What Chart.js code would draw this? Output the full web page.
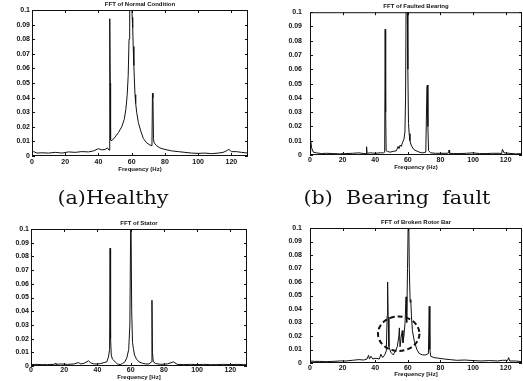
<!DOCTYPE html>
<html>
<head>
<meta charset="utf-8">
<script src="https://cdn.jsdelivr.net/npm/chart.js@4.4.1/dist/chart.umd.min.js"></script>
<style>
  body { margin: 0; background: #fff; width: 523px; height: 381px; position: relative; overflow: hidden; }
  canvas { position: absolute; }
  .cap { position: absolute; width: 220px; text-align: center; font-family: 'DejaVu Serif'; font-size: 18px;
         line-height: 21px; color: #111; white-space: pre; transform: scaleX(1.15); }
</style>
</head>
<body>
<canvas id="c1" width="262" height="182" style="left:0;top:0"></canvas>
<canvas id="c2" width="261" height="182" style="left:262px;top:0"></canvas>
<canvas id="c3" width="262" height="191" style="left:0;top:190px"></canvas>
<canvas id="c4" width="261" height="191" style="left:262px;top:190px"></canvas>
<div class="cap" style="left:3px;top:187px">(a)Healthy</div>
<div class="cap" style="left:287px;top:187px">(b)  Bearing  fault</div>
<script>
// axis ticks
const xTicks = [0, 20, 40, 60, 80, 100, 120]
const yTicks = [0, 0.01, 0.02, 0.03, 0.04, 0.05, 0.06, 0.07, 0.08, 0.09, 0.1]
const yTickLabels = ['0', '0.01', '0.02', '0.03', '0.04', '0.05', '0.06', '0.07', '0.08', '0.09', '0.1']

// (a) healthy motor
const healthyFreq = [0, 1, 3, 6, 10, 14, 18, 22, 26, 30, 34, 37, 40, 42, 44, 45.5, 46.4, 46.7, 46.9, 47.1, 47.3, 47.6,
  48.5, 50, 52, 54, 55.5, 56.5, 57.3, 57.9, 58.4, 58.8, 59.3, 59.8, 60.3, 60.6, 60.9, 61.3, 61.7, 62.0, 62.4, 63, 64,
  65.5, 67, 69, 71, 72.2, 72.5, 72.8, 73.1, 73.5, 75, 77, 80, 84, 88, 92, 96, 100, 104, 108, 112, 115, 117, 118.5, 120,
  123, 126, 130]
const healthyAmp = [0.002, 0.003, 0.002, 0.0022, 0.002, 0.0025, 0.002, 0.0028, 0.0025, 0.003, 0.0028, 0.0035, 0.005,
  0.0042, 0.0045, 0.0055, 0.004, 0.053, 0.094, 0.05, 0.011, 0.0105, 0.011, 0.013, 0.016, 0.02, 0.025, 0.032, 0.042,
  0.055, 0.08, 0.11, 0.13, 0.11, 0.095, 0.088, 0.075, 0.062, 0.05, 0.042, 0.036, 0.03, 0.023, 0.017, 0.012, 0.009,
  0.0075, 0.007, 0.043, 0.04, 0.012, 0.009, 0.007, 0.0055, 0.0045, 0.0035, 0.003, 0.0025, 0.002, 0.0018, 0.002,
  0.0016, 0.002, 0.0025, 0.0035, 0.0045, 0.003, 0.003, 0.0025, 0.002]

// (b) bearing fault
const bearingFreq = [0, 0.4, 1, 2, 4, 7, 10, 14, 18, 22, 26, 30, 33, 34.4, 34.7, 35, 37, 40, 43, 45, 45.8, 46.1, 46.4,
  46.7, 47.5, 49, 51, 53, 54, 54.6, 55.3, 56, 56.8, 57.6, 58.2, 58.6, 59, 59.5, 60, 60.4, 60.8, 61.3, 62, 63.5, 65, 67,
  69, 71, 71.7, 72, 72.3, 72.7, 74, 77, 80, 84, 85, 85.3, 85.6, 88, 92, 96, 100, 104, 108, 112, 116, 117.5, 118, 119,
  122, 126, 130]
const bearingAmp = [0.002, 0.01, 0.005, 0.002, 0.0015, 0.001, 0.0012, 0.001, 0.0008, 0.001, 0.0012, 0.0015, 0.001,
  0.001, 0.0058, 0.0012, 0.0015, 0.0012, 0.0015, 0.0015, 0.002, 0.088, 0.03, 0.003, 0.0025, 0.002, 0.0025, 0.003,
  0.006, 0.0045, 0.007, 0.006, 0.009, 0.011, 0.016, 0.04, 0.12, 0.13, 0.06, 0.022, 0.015, 0.01, 0.007, 0.004, 0.003,
  0.002, 0.0015, 0.002, 0.048, 0.049, 0.02, 0.003, 0.0015, 0.0012, 0.0012, 0.0012, 0.0015, 0.0035, 0.0012, 0.001,
  0.001, 0.0012, 0.0015, 0.001, 0.001, 0.0012, 0.0012, 0.001, 0.004, 0.0015, 0.0012, 0.0008, 0.001]

// stator fault
const statorFreq = [0, 3, 6, 10, 14, 14.5, 15, 18, 22, 26, 28.5, 30, 32, 34.6, 36, 38, 40, 42, 44, 45.6, 46.6, 47.3,
  47.6, 47.9, 48.3, 49, 50.7, 52, 53.7, 55, 56.5, 57.7, 58.8, 59.5, 60.1, 60.6, 61.1, 61.6, 62.3, 63.5, 65, 67, 69, 71,
  72.5, 72.8, 73.1, 73.6, 75, 78, 82, 85.8, 88, 92, 96, 100, 104, 108, 112, 116, 120, 124, 128, 130]
const statorAmp = [0.001, 0.0012, 0.001, 0.001, 0.0012, 0.002, 0.0012, 0.0015, 0.0012, 0.0015, 0.0025, 0.0015, 0.002,
  0.0038, 0.0022, 0.0015, 0.0015, 0.0018, 0.0025, 0.003, 0.0065, 0.012, 0.086, 0.02, 0.008, 0.005, 0.003, 0.0015,
  0.001, 0.0018, 0.003, 0.006, 0.012, 0.03, 0.12, 0.04, 0.017, 0.013, 0.008, 0.005, 0.003, 0.002, 0.0015, 0.0015,
  0.003, 0.048, 0.01, 0.003, 0.0018, 0.0012, 0.0015, 0.003, 0.0012, 0.001, 0.0012, 0.001, 0.0012, 0.001, 0.001,
  0.0012, 0.001, 0.0012, 0.001, 0.001]

// broken rotor bar
const rotorFreq = [0, 3, 6, 10, 14, 18, 22, 26, 30, 33, 35, 35.9, 36.5, 37.4, 38.5, 40.5, 42.5, 43.5, 44.5, 45.8, 46.8,
  47.3, 47.6, 47.9, 48.4, 49.5, 51, 52.5, 53.5, 54.5, 54.8, 55.2, 56, 56.6, 57, 57.6, 58.3, 58.9, 59.3, 59.8, 60.4,
  60.9, 61.4, 61.8, 62.2, 62.8, 64, 65.5, 67, 69, 71, 72.6, 73.1, 73.5, 74, 76, 79, 82, 86, 90, 95, 100, 105, 110, 115,
  118, 121.3, 121.8, 122.5, 126, 130]
const rotorAmp = [0.0015, 0.0012, 0.0012, 0.001, 0.0012, 0.0015, 0.0015, 0.002, 0.0025, 0.0022, 0.003, 0.0057, 0.003,
  0.005, 0.003, 0.0035, 0.003, 0.0065, 0.004, 0.006, 0.009, 0.035, 0.06, 0.034, 0.012, 0.008, 0.006, 0.009, 0.012,
  0.02, 0.026, 0.012, 0.02, 0.024, 0.015, 0.02, 0.03, 0.049, 0.03, 0.07, 0.12, 0.07, 0.045, 0.047, 0.035, 0.024, 0.016,
  0.01, 0.007, 0.006, 0.006, 0.007, 0.042, 0.01, 0.005, 0.004, 0.0035, 0.003, 0.0025, 0.002, 0.0022, 0.0018, 0.0015,
  0.0018, 0.0015, 0.002, 0.002, 0.004, 0.0015, 0.0015, 0.001]

// dashed ring drawn round the sidebands (freq, amp, radius in Hz, radius in amp)
const rotorRing = [54.4, 0.0217, 12.7, 0.0128]

const ink = '#111'
const tickFont = { family: 'Liberation Sans', size: 7, weight: 'bold' }

// box + inward tick marks + small title, MATLAB style
const frame = {
  id: 'frame',
  afterDraw (chart, args, opts) {
    const { ctx, chartArea: a, scales: { x, y } } = chart
    ctx.save()
    ctx.strokeStyle = ink
    ctx.lineWidth = 1
    ctx.strokeRect(a.left + 0.5, a.top + 0.5, a.width - 1, a.height - 1)
    ctx.beginPath()
    x.ticks.forEach(t => {
      const px = Math.round(x.getPixelForValue(t.value)) + 0.5
      ctx.moveTo(px, a.bottom); ctx.lineTo(px, a.bottom - 3)
      ctx.moveTo(px, a.top); ctx.lineTo(px, a.top + 3)
    })
    y.ticks.forEach(t => {
      const py = Math.round(y.getPixelForValue(t.value)) + 0.5
      ctx.moveTo(a.left, py); ctx.lineTo(a.left + 3, py)
      ctx.moveTo(a.right, py); ctx.lineTo(a.right - 3, py)
    })
    ctx.stroke()
    if (opts.ring) {
      const [f, v, rf, rv] = opts.ring
      const cx = x.getPixelForValue(f)
      const cy = y.getPixelForValue(v)
      ctx.lineWidth = 2
      ctx.setLineDash([5, 3])
      ctx.beginPath()
      ctx.ellipse(cx, cy, x.getPixelForValue(f + rf) - cx, cy - y.getPixelForValue(v + rv), 0, 0, Math.PI * 2)
      ctx.stroke()
      ctx.setLineDash([])
    }
    ctx.fillStyle = ink
    ctx.font = 'bold 6px "Liberation Sans"'
    ctx.textAlign = 'center'
    ctx.textBaseline = 'middle'
    ctx.fillText(opts.text, (a.left + a.right) / 2, a.top - 6)
    ctx.restore()
  }
}

function drawSpectrum (id, freq, amp, p) {
  new Chart(document.getElementById(id), {
    type: 'line',
    data: {
      datasets: [{
        data: freq.map((f, i) => ({ x: f, y: amp[i] })),
        borderColor: ink,
        borderWidth: 1,
        pointRadius: 0,
        tension: 0
      }]
    },
    options: {
      responsive: false,
      animation: false,
      layout: { padding: { left: 0, right: p.right, top: p.top, bottom: p.bottom } },
      plugins: {
        legend: { display: false },
        tooltip: { enabled: false },
        frame: { text: p.title, ring: p.ring }
      },
      scales: {
        x: {
          type: 'linear',
          min: 0,
          max: 130,
          afterBuildTicks: s => { s.ticks = xTicks.map(v => ({ value: v })) },
          afterFit: s => { s.height = p.xh },
          grid: { display: false, drawTicks: false },
          border: { display: false },
          ticks: { padding: p.xpad, font: tickFont, color: ink, maxRotation: 0, autoSkip: false },
          title: { display: true, text: p.xlabel, padding: 0, color: ink, font: { family: 'Liberation Sans', size: 6, weight: 'bold' } }
        },
        y: {
          min: 0,
          max: 0.1,
          afterBuildTicks: s => { s.ticks = yTicks.map(v => ({ value: v })) },
          afterFit: s => { s.width = p.yw },
          grid: { display: false, drawTicks: false },
          border: { display: false },
          ticks: { padding: p.ypad, font: tickFont, color: ink, autoSkip: false, callback: (v, i) => yTickLabels[i] }
        }
      }
    },
    plugins: [frame]
  })
}

drawSpectrum('c1', healthyFreq, healthyAmp, {
  title: 'FFT of Normal Condition', xlabel: 'Frequency (Hz)',
  right: 14, top: 10, bottom: 9, xh: 17, xpad: 2, yw: 32, ypad: 2
})
drawSpectrum('c2', bearingFreq, bearingAmp, {
  title: 'FFT of Faulted Bearing', xlabel: 'Frequency (Hz)',
  right: 1, top: 10, bottom: 11, xh: 16, xpad: 1, yw: 48, ypad: 8
})
drawSpectrum('c3', statorFreq, statorAmp, {
  title: 'FFT of Stator', xlabel: 'Frequency [Hz]',
  right: 15, top: 39, bottom: 0, xh: 15, xpad: 0, yw: 31, ypad: 2
})
drawSpectrum('c4', rotorFreq, rotorAmp, {
  title: 'FFT of Broken Rotor Bar', xlabel: 'Frequency [Hz]',
  right: 1, top: 38, bottom: 3, xh: 15, xpad: 1, yw: 48, ypad: 8, ring: rotorRing
})
</script>
</body>
</html>
